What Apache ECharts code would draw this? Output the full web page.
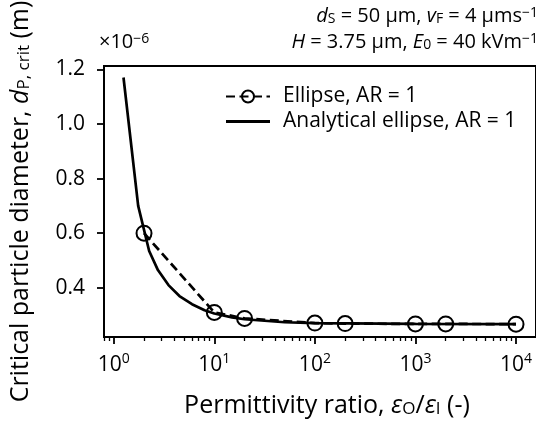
<!DOCTYPE html>
<html>
<head>
<meta charset="utf-8">
<script src="https://cdn.jsdelivr.net/npm/echarts@6/dist/echarts.min.js"></script>
<style>
  html, body { margin: 0; padding: 0; background: #fff; }
  #chart { width: 536px; height: 423px; }
</style>
</head>
<body>
<div id="chart"></div>
<script>
// Simulated critical particle diameter (units of 1e-6 m) vs permittivity ratio
const ellipseRatio = [2, 10, 20, 100, 200, 1000, 2000, 10000];
const ellipseDiam = [0.600, 0.310, 0.288, 0.271, 0.269, 0.268, 0.268, 0.267];

// Analytical solution for the same ellipse
const analyticRatio = [1.25, 1.75, 2.25, 2.75, 3.5, 4.5, 6, 8, 10, 15, 20, 50, 100, 1000, 10000];
const analyticDiam = [1.170, 0.700, 0.535, 0.465, 0.410, 0.370, 0.340, 0.318, 0.306, 0.292, 0.285, 0.274, 0.271, 0.268, 0.267];

// Tick positions
const yTicks = [0.4, 0.6, 0.8, 1.0, 1.2];
const xMajorTicks = [1, 10, 100, 1000, 10000];
const xMinorTicks = [0.8, 0.9, 2, 3, 4, 5, 6, 7, 8, 9, 20, 30, 40, 50, 60, 70, 80, 90,
  200, 300, 400, 500, 600, 700, 800, 900, 2000, 3000, 4000, 5000, 6000, 7000, 8000, 9000];

const FONT = 'Open Sans';
const TITLE_SIZE = 25;
const TICK_SIZE = 21;
const rich = {
  i: { fontFamily: FONT, fontStyle: 'italic', fontSize: TITLE_SIZE, color: '#000' },
  sub: { fontFamily: FONT, fontSize: 17, color: '#000', verticalAlign: 'bottom', lineHeight: 15 }
};
const infoRich = {
  i: { fontFamily: FONT, fontStyle: 'italic', fontSize: 20, fill: '#000' },
  s: { fontFamily: FONT, fontSize: 14, fill: '#000', verticalAlign: 'bottom', lineHeight: 13 },
  p: { fontFamily: FONT, fontSize: 14, fill: '#000', verticalAlign: 'top', lineHeight: 13 }
};

const zip = (xs, ys) => xs.map((x, k) => [x, ys[k]]);

const chart = echarts.init(document.getElementById('chart'), null, { renderer: 'canvas' });

chart.setOption({
  backgroundColor: '#fff',
  animation: false,
  grid: {
    left: 101, top: 66, right: -3, bottom: 81,
    show: true, borderColor: '#000', borderWidth: 2, backgroundColor: 'transparent'
  },
  legend: {
    orient: 'vertical',
    left: 220, top: 81,
    itemWidth: 44, itemHeight: 15, itemGap: 4,
    textStyle: { fontFamily: FONT, fontSize: 21, color: '#000', padding: [0, 0, 0, 8] },
    data: [
      { name: 'Ellipse, AR = 1' },
      { name: 'Analytical ellipse, AR = 1', icon: 'path://M0,0H44V2.8H0Z' }
    ]
  },
  xAxis: [
    {
      type: 'log', logBase: 10, min: 0.8, max: 15800,
      axisLine: { show: true, lineStyle: { color: '#000', width: 2 } },
      axisTick: { show: true, length: 7, lineStyle: { color: '#000', width: 1.8 }, customValues: xMajorTicks },
      axisLabel: {
        customValues: xMajorTicks, margin: 15,
        formatter: v => '{b|10}{sup|' + Math.round(Math.log10(v)) + '}',
        rich: {
          b: { fontFamily: FONT, fontSize: TICK_SIZE, color: '#000', lineHeight: 26 },
          sup: { fontFamily: FONT, fontSize: 14, color: '#000', verticalAlign: 'top', lineHeight: 14 }
        }
      },
      splitLine: { show: false },
      minorTick: { show: false },
      name: 'Permittivity ratio, {i|ε}{sub|O}/{i|ε}{sub|I} (-)',
      nameLocation: 'middle', nameGap: 56,
      nameTextStyle: { fontFamily: FONT, fontSize: TITLE_SIZE, color: '#000', padding: [0, 0, 0, 14], rich: rich }
    },
    {
      type: 'log', logBase: 10, min: 0.8, max: 15800, position: 'bottom',
      axisLine: { show: false },
      axisTick: { show: true, length: 4, lineStyle: { color: '#000', width: 1.3 }, customValues: xMinorTicks },
      axisLabel: { show: false },
      splitLine: { show: false }
    }
  ],
  yAxis: {
    type: 'value', min: 0.22, max: 1.212,
    axisLine: { show: true, lineStyle: { color: '#000', width: 2 } },
    axisTick: { show: true, length: 7, lineStyle: { color: '#000', width: 1.8 }, customValues: yTicks },
    axisLabel: {
      customValues: yTicks, margin: 19,
      formatter: v => v.toFixed(1),
      fontFamily: FONT, fontSize: TICK_SIZE, color: '#000'
    },
    splitLine: { show: false },
    name: 'Critical particle diameter, {i|d}{sub|P, crit} (m)',
    nameLocation: 'middle', nameRotate: 90, nameGap: 71,
    nameTextStyle: { fontFamily: FONT, fontSize: TITLE_SIZE, color: '#000', rich: rich }
  },
  graphic: [
    {
      type: 'text', left: 99, top: 32,
      style: {
        text: '×10{p|−6}',
        fontFamily: FONT, fontSize: 20, fill: '#000',
        rich: { p: { fontFamily: FONT, fontSize: 14, fill: '#000', verticalAlign: 'top', lineHeight: 13 } }
      }
    },
    {
      type: 'text', right: -2, top: 6,
      style: {
        text: '{i|d}{s|S} = 50 μm, {i|v}{s|F} = 4 μms{p|−1}',
        fontFamily: FONT, fontSize: 20, fill: '#000', align: 'right',
        rich: infoRich
      }
    },
    {
      type: 'text', right: -2, top: 32,
      style: {
        text: '{i|H} = 3.75 μm, {i|E}{s|0} = 40 kVm{p|−1}',
        fontFamily: FONT, fontSize: 20, fill: '#000', align: 'right',
        rich: infoRich
      }
    }
  ],
  series: [
    {
      name: 'Ellipse, AR = 1',
      type: 'line',
      data: zip(ellipseRatio, ellipseDiam),
      symbol: 'circle', symbolSize: 15, showSymbol: true,
      lineStyle: { color: '#000', width: 2.7, type: [9, 4.5] },
      itemStyle: { color: 'rgba(0,0,0,0)', borderColor: '#000', borderWidth: 2 },
      z: 3
    },
    {
      name: 'Analytical ellipse, AR = 1',
      type: 'line',
      data: zip(analyticRatio, analyticDiam),
      symbol: 'none', showSymbol: false,
      lineStyle: { color: '#000', width: 2.7 },
      itemStyle: { color: '#000' },
      z: 2
    }
  ]
});
</script>
</body>
</html>
